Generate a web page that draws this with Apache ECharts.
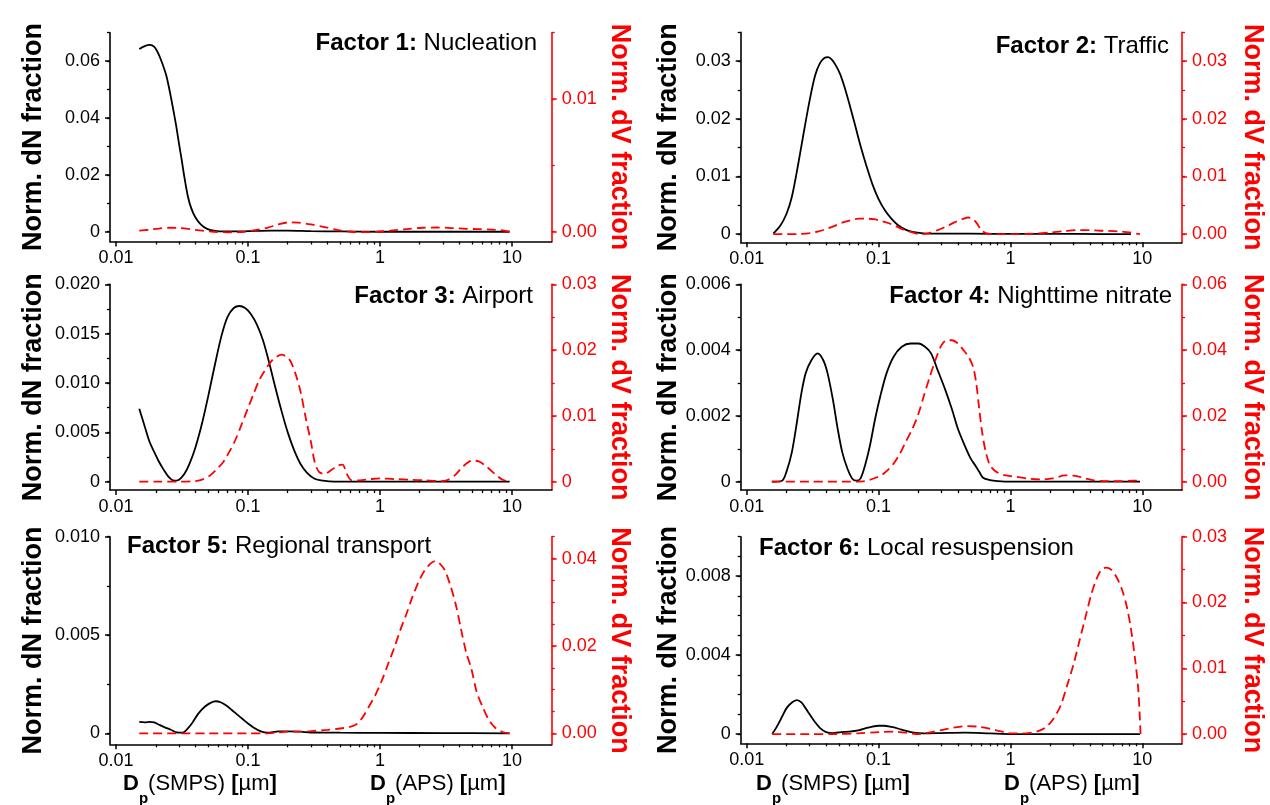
<!DOCTYPE html>
<html><head><meta charset="utf-8">
<script src="https://cdn.jsdelivr.net/npm/echarts@6/dist/echarts.min.js"></script>
<style>html,body{margin:0;padding:0;background:#fff}#c{width:1270px;height:805px}</style>
</head><body><div id="c"></div>
<script>
// ---------------- DATA ----------------
const xTickLabels = ['0.01', '0.1', '1', '10'];

// Factor 1: Nucleation
const f1Title = ['Factor 1:', ' Nucleation'];
const f1LeftTicks = ['0', '0.02', '0.04', '0.06'];
const f1RightTicks = ['0.00', '0.01'];
const f1dnX = [0.015,0.0165,0.018,0.0195,0.021,0.0225,0.024,0.0255,0.027,0.0285,0.030,0.0315,0.033,0.035,0.037,0.040,0.044,0.049,0.055,0.065,0.08,0.1,0.15,0.2,0.3,0.5,1,2,5,9.6];
const f1dnY = [0.0643,0.0653,0.0657,0.0650,0.0625,0.0590,0.0550,0.0495,0.0435,0.0375,0.031,0.025,0.019,0.0125,0.0085,0.0050,0.0025,0.0010,0.0004,0.0001,0.0001,0.0002,0.0004,0.0004,0.0002,0.0001,0,0,0,0];
const f1dvX = [0.015,0.018,0.021,0.025,0.03,0.036,0.045,0.055,0.07,0.09,0.11,0.14,0.17,0.2,0.24,0.3,0.38,0.48,0.6,0.75,0.95,1.2,1.6,2.1,2.7,3.5,4.5,5.5,7,8.5,9.6];
const f1dvY = [0.00008,0.00016,0.00024,0.0003,0.00028,0.0002,0.00008,0.0,-0.00004,-0.00002,0.0001,0.0003,0.00055,0.0007,0.00068,0.00055,0.00035,0.00012,0.0,-0.00003,0.0,0.00008,0.0002,0.0003,0.00032,0.00028,0.00022,0.0002,0.00016,0.0001,0.0];

// Factor 2: Traffic
const f2Title = ['Factor 2:', ' Traffic'];
const f2LeftTicks = ['0', '0.01', '0.02', '0.03'];
const f2RightTicks = ['0.00', '0.01', '0.02', '0.03'];
const f2dnX = [0.0159,0.018,0.020,0.022,0.0245,0.027,0.030,0.033,0.036,0.039,0.0415,0.044,0.047,0.051,0.055,0.060,0.066,0.073,0.081,0.090,0.100,0.112,0.125,0.140,0.160,0.180,0.21,0.25,0.35,0.5,1,2,5,8.2];
const f2dnY = [0.0001,0.0015,0.0035,0.0065,0.0120,0.0175,0.0232,0.0275,0.0297,0.0306,0.0307,0.0303,0.0294,0.0278,0.0256,0.0226,0.0191,0.0153,0.0118,0.0086,0.0061,0.0041,0.0027,0.0016,0.0008,0.0004,0.0002,0.0001,0.0001,0.0001,0.00005,0.00005,0.00003,0.0];
const f2dvX = [0.0159,0.020,0.025,0.030,0.035,0.040,0.046,0.053,0.061,0.070,0.080,0.092,0.105,0.12,0.135,0.155,0.18,0.21,0.24,0.28,0.33,0.38,0.43,0.48,0.52,0.56,0.6,0.65,0.75,1.0,1.5,2.0,2.5,3.2,4.0,5.0,6.5,8.0,9.6];
const f2dvY = [0.0,0.0,0.00005,0.0002,0.0005,0.0009,0.0014,0.0020,0.0024,0.0027,0.0027,0.0026,0.0023,0.0019,0.0014,0.0008,0.0003,0.0,0.0002,0.0007,0.0014,0.0021,0.0026,0.0029,0.0026,0.0018,0.0007,0.0002,0.0,0.0,0.0001,0.0003,0.0005,0.0007,0.0007,0.0006,0.0005,0.0003,0.0];

// Factor 3: Airport
const f3Title = ['Factor 3:', ' Airport'];
const f3LeftTicks = ['0', '0.005', '0.010', '0.015', '0.020'];
const f3RightTicks = ['0', '0.01', '0.02', '0.03'];
const f3dnX = [0.015,0.0165,0.018,0.0195,0.021,0.023,0.025,0.0275,0.030,0.033,0.036,0.040,0.045,0.050,0.056,0.063,0.070,0.078,0.086,0.095,0.105,0.117,0.13,0.145,0.16,0.18,0.20,0.225,0.25,0.28,0.32,0.37,0.45,1,3,9.6];
const f3dnY = [0.0074,0.0056,0.0040,0.0030,0.0021,0.0012,0.0005,0.0001,0.0002,0.0008,0.0018,0.0035,0.0060,0.0087,0.0118,0.0148,0.0167,0.0176,0.0178,0.0176,0.0170,0.0159,0.0143,0.0120,0.0097,0.0071,0.0050,0.0031,0.0018,0.0009,0.0003,0.0001,0.0,0.0,0.0,0.0];
const f3dvX = [0.015,0.02,0.03,0.04,0.046,0.052,0.058,0.065,0.072,0.080,0.089,0.1,0.11,0.122,0.135,0.15,0.165,0.18,0.195,0.21,0.23,0.25,0.275,0.30,0.32,0.345,0.38,0.43,0.48,0.52,0.56,0.61,0.7,0.85,1.0,1.3,1.7,2.2,2.8,3.2,3.7,4.3,5.0,5.6,6.5,7.5,8.5,9.6];
const f3dvY = [0.0,0.0,0.0,0.0001,0.0004,0.0010,0.0019,0.0030,0.0045,0.0063,0.0086,0.0112,0.0133,0.0155,0.0170,0.0183,0.0190,0.0193,0.0190,0.0183,0.0163,0.0137,0.0095,0.0060,0.0030,0.0015,0.0012,0.0018,0.0025,0.0026,0.0012,0.0002,0.0002,0.0004,0.0005,0.0004,0.0003,0.0002,0.0001,0.0002,0.0010,0.0024,0.0032,0.0031,0.0022,0.0011,0.0003,0.0];

// Factor 4: Nighttime nitrate
const f4Title = ['Factor 4:', ' Nighttime nitrate'];
const f4LeftTicks = ['0', '0.002', '0.004', '0.006'];
const f4RightTicks = ['0.00', '0.02', '0.04', '0.06'];
const f4dnX = [0.0155,0.0185,0.020,0.022,0.024,0.026,0.028,0.031,0.0345,0.038,0.041,0.045,0.049,0.053,0.058,0.063,0.068,0.073,0.079,0.086,0.094,0.103,0.115,0.13,0.15,0.175,0.20,0.225,0.25,0.28,0.32,0.36,0.40,0.45,0.50,0.54,0.58,0.62,0.7,0.8,1,3,9.6];
const f4dnY = [0.0,0.00003,0.0003,0.0009,0.0018,0.0027,0.0033,0.0037,0.0039,0.0037,0.0033,0.0025,0.0016,0.0009,0.0004,0.0001,0.00003,0.0001,0.0005,0.0011,0.0019,0.0026,0.0033,0.0038,0.0041,0.0042,0.0042,0.0041,0.0039,0.0034,0.0028,0.0022,0.0016,0.0011,0.0007,0.0005,0.0003,0.00012,0.00005,0.00002,0.0,0.0,0.0];
const f4dvX = [0.0155,0.03,0.06,0.075,0.085,0.095,0.105,0.115,0.13,0.145,0.16,0.18,0.20,0.22,0.245,0.27,0.30,0.33,0.36,0.40,0.44,0.48,0.52,0.55,0.58,0.61,0.65,0.70,0.78,0.9,1.1,1.4,1.7,2.1,2.6,3.1,3.7,4.3,5.5,7,8.5,9.6];
const f4dvY = [0.0,0.0,0.0,0.0001,0.0005,0.0012,0.0020,0.0032,0.0055,0.0085,0.0120,0.0160,0.0205,0.0260,0.0320,0.0370,0.0415,0.0430,0.0430,0.0420,0.0400,0.0380,0.0350,0.0300,0.0220,0.0150,0.0090,0.0050,0.0030,0.0020,0.0015,0.0009,0.0007,0.0010,0.0019,0.0018,0.0010,0.0004,0.0002,0.0002,0.0003,0.0003];

// Factor 5: Regional transport
const f5Title = ['Factor 5:', ' Regional transport'];
const f5LeftTicks = ['0', '0.005', '0.010'];
const f5RightTicks = ['0.00', '0.02', '0.04'];
const f5dnX = [0.015,0.0165,0.018,0.0195,0.021,0.023,0.026,0.029,0.032,0.035,0.038,0.042,0.047,0.052,0.057,0.062,0.068,0.075,0.083,0.092,0.10,0.11,0.125,0.14,0.17,0.2,0.25,0.3,0.5,1,3,9.6];
const f5dnY = [0.00058,0.00056,0.00058,0.00055,0.00045,0.00033,0.00018,0.00004,0.00003,0.00025,0.00055,0.0010,0.00135,0.00155,0.00163,0.00158,0.00143,0.00120,0.00095,0.00070,0.0005,0.0003,0.0001,0.00003,0.0001,0.0001,0.00008,0.00004,0.00003,0.00002,0.00001,0.0];
const f5dvX = [0.015,0.05,0.1,0.14,0.17,0.2,0.25,0.3,0.4,0.5,0.6,0.67,0.74,0.82,0.92,1.03,1.15,1.28,1.42,1.58,1.75,1.95,2.15,2.4,2.62,2.85,3.1,3.4,3.75,4.1,4.5,4.9,5.4,6.0,6.7,7.5,8.5,9.6];
const f5dvY = [0.0,0.0,0.0,0.0,0.0002,0.0004,0.0004,0.0005,0.0008,0.0011,0.0015,0.0022,0.0037,0.0060,0.0087,0.0120,0.0158,0.0195,0.0235,0.0272,0.0310,0.0345,0.0370,0.0388,0.0394,0.0388,0.0373,0.0340,0.0295,0.0240,0.0185,0.0150,0.0095,0.0060,0.0030,0.0012,0.0003,0.0];

// Factor 6: Local resuspension
const f6Title = ['Factor 6:', ' Local resuspension'];
const f6LeftTicks = ['0', '0.004', '0.008'];
const f6RightTicks = ['0.00', '0.01', '0.02', '0.03'];
const f6dnX = [0.0156,0.017,0.0186,0.020,0.022,0.024,0.026,0.028,0.030,0.033,0.036,0.040,0.045,0.052,0.06,0.07,0.08,0.09,0.10,0.11,0.125,0.14,0.16,0.185,0.22,0.3,0.45,0.7,1,3,9.6];
const f6dnY = [0.0,0.0004,0.0009,0.0013,0.0016,0.00172,0.0016,0.0013,0.0010,0.0006,0.0003,0.0001,0.00005,0.0001,0.00012,0.00018,0.0003,0.00038,0.00042,0.00042,0.00036,0.00028,0.00017,0.00007,0.00003,0.00005,0.00007,0.00003,0.0,0.0,0.0];
const f6dvX = [0.0156,0.03,0.045,0.07,0.1,0.13,0.16,0.2,0.24,0.3,0.38,0.47,0.58,0.7,0.85,1.0,1.3,1.6,1.85,2.1,2.4,2.7,3.0,3.35,3.7,4.1,4.5,4.9,5.3,5.8,6.4,7.0,7.6,8.2,8.8,9.3,9.55,9.7];
const f6dvY = [0.0,0.0,0.0,0.0001,0.0003,0.00035,0.0002,0.0,0.0002,0.0006,0.0010,0.0012,0.0011,0.0008,0.0004,0.0001,0.0001,0.0004,0.0010,0.0022,0.0043,0.0075,0.0105,0.0143,0.0177,0.0212,0.0236,0.0250,0.0253,0.0250,0.0238,0.0220,0.0195,0.0160,0.0115,0.0070,0.0030,0.0];

const leftName = 'Norm. dN fraction';
const rightName = 'Norm. dV fraction';
const xName1 = ['D', 'p', '(SMPS) ', '[', 'µm', ']'];
const xName2 = ['D', 'p', '(APS) ', '[', 'µm', ']'];

// ---------------- LAYOUT / STYLE ----------------
const FONT = '"Liberation Sans", Arial, sans-serif';
const RED = '#ff0000';
const TICK_FS = 18;
const panels = [
  {title: f1Title, tAlign: 'right', tx: 537, ty: 43, g: {left: 110, top: 32.7, width: 441.7, height: 208.8}, pad: 0.049,
   lMax: 0.07, rMax: 0.015, lStep: 0.01, rStep: 0.005, lT: f1LeftTicks, rT: f1RightTicks, gapL: 63, gapR: 54,
   dnX: f1dnX, dnY: f1dnY, dvX: f1dvX, dvY: f1dvY},
  {title: f2Title, tAlign: 'right', tx: 1169, ty: 46, g: {left: 740.7, top: 32.3, width: 441.3, height: 210}, pad: 0.040,
   lMax: 0.035, rMax: 0.035, lStep: 0.005, rStep: 0.005, lT: f2LeftTicks, rT: f2RightTicks, gapL: 59, gapR: 57,
   dnX: f2dnX, dnY: f2dnY, dvX: f2dvX, dvY: f2dvY},
  {title: f3Title, tAlign: 'right', tx: 533, ty: 296, g: {left: 110, top: 284.3, width: 441.7, height: 205.7}, pad: 0.042,
   lMax: 0.02, rMax: 0.03, lStep: 0.0025, rStep: 0.005, lT: f3LeftTicks, rT: f3RightTicks, gapL: 63, gapR: 54,
   dnX: f3dnX, dnY: f3dnY, dvX: f3dvX, dvY: f3dvY},
  {title: f4Title, tAlign: 'right', tx: 1172, ty: 296, g: {left: 740.7, top: 284.3, width: 441.3, height: 205.7}, pad: 0.042,
   lMax: 0.006, rMax: 0.06, lStep: 0.001, rStep: 0.01, lT: f4LeftTicks, rT: f4RightTicks, gapL: 59, gapR: 57,
   dnX: f4dnX, dnY: f4dnY, dvX: f4dvX, dvY: f4dvY},
  {title: f5Title, tAlign: 'left', tx: 127, ty: 546, g: {left: 110, top: 536.7, width: 441.7, height: 207.6}, pad: 0.056,
   lMax: 0.01, rMax: 0.045, lStep: 0.0025, rStep: 0.005, lT: f5LeftTicks, rT: f5RightTicks, gapL: 63, gapR: 54,
   dnX: f5dnX, dnY: f5dnY, dvX: f5dvX, dvY: f5dvY},
  {title: f6Title, tAlign: 'left', tx: 759, ty: 548, g: {left: 740.7, top: 536.7, width: 441.3, height: 206.6}, pad: 0.047,
   lMax: 0.01, rMax: 0.03, lStep: 0.001, rStep: 0.005, lT: f6LeftTicks, rT: f6RightTicks, gapL: 59, gapR: 57,
   dnX: f6dnX, dnY: f6dnY, dvX: f6dvX, dvY: f6dvY}
];
const xNamePos = [
  {name: xName1, x: 123, y: 784}, {name: xName2, x: 370, y: 784},
  {name: xName1, x: 756, y: 784}, {name: xName2, x: 1004, y: 784}
];

// ---------------- BUILD ----------------
const xMajor = xTickLabels.map(Number);
const xMinor = [];
[0.01, 0.1, 1].forEach(d => { for (let m = 2; m <= 9; m++) xMinor.push(Number((m * d).toPrecision(6))); });

function steps(max, step) {
  const a = []; const n = Math.round(max / step);
  for (let k = 0; k <= n; k++) a.push(Number((k * step).toFixed(8)));
  return a;
}
function lookup(labels) {
  return v => { for (const s of labels) if (Math.abs(Number(s) - v) < 1e-9) return s; return ''; };
}
function lookupLog(labels) {
  return v => { for (const s of labels) if (Math.abs(Math.log10(Number(s)) - Math.log10(v)) < 1e-6) return s; return ''; };
}
function zip(xs, ys) { return xs.map((x, i) => [x, ys[i]]); }

const grids = [], xAxes = [], yAxes = [], series = [], graphics = [];
panels.forEach((p, i) => {
  grids.push(Object.assign({outerBoundsMode: 'none', containLabel: false}, p.g));
  const xBase = {type: 'log', logBase: 10, gridIndex: i, min: 0.009, max: 20, position: 'bottom',
    splitLine: {show: false}, minorTick: {show: false}, minorSplitLine: {show: false}};
  xAxes.push(Object.assign({}, xBase, {
    axisLine: {show: true, onZero: false, lineStyle: {color: '#000', width: 1.6}},
    axisTick: {show: true, length: 5, customValues: xMajor, lineStyle: {color: '#000', width: 1.5}},
    axisLabel: {show: true, customValues: xMajor, formatter: lookupLog(xTickLabels), margin: 8,
      fontSize: TICK_FS, color: '#000', fontFamily: FONT}
  }));
  xAxes.push(Object.assign({}, xBase, {
    axisLine: {show: false, onZero: false},
    axisTick: {show: true, length: 3, customValues: xMinor, lineStyle: {color: '#000', width: 1.3}},
    axisLabel: {show: false}
  }));
  const lMin = -p.lMax * p.pad, rMin = -p.rMax * p.pad;
  const yBase = {type: 'value', gridIndex: i, splitLine: {show: false}, minorTick: {show: false}};
  yAxes.push(Object.assign({}, yBase, {position: 'left', min: lMin, max: p.lMax,
    axisLine: {show: true, onZero: false, lineStyle: {color: '#000', width: 1.6}},
    axisTick: {show: true, length: 5, customValues: p.lT.map(Number), lineStyle: {color: '#000', width: 1.5}},
    axisLabel: {show: true, customValues: p.lT.map(Number), formatter: lookup(p.lT), margin: 10,
      fontSize: TICK_FS, color: '#000', fontFamily: FONT},
    name: leftName, nameLocation: 'middle', nameGap: p.gapL, nameRotate: 90, nameMoveOverlap: false,
    nameTextStyle: {fontSize: 27, fontWeight: 'bold', color: '#000', fontFamily: FONT}
  }));
  yAxes.push(Object.assign({}, yBase, {position: 'left', min: lMin, max: p.lMax,
    axisLine: {show: false, onZero: false},
    axisTick: {show: true, length: 3, customValues: steps(p.lMax, p.lStep), lineStyle: {color: '#000', width: 1.3}},
    axisLabel: {show: false}
  }));
  yAxes.push(Object.assign({}, yBase, {position: 'right', min: rMin, max: p.rMax,
    axisLine: {show: true, onZero: false, lineStyle: {color: RED, width: 1.6}},
    axisTick: {show: true, length: 5, customValues: p.rT.map(Number), lineStyle: {color: RED, width: 1.5}},
    axisLabel: {show: true, customValues: p.rT.map(Number), formatter: lookup(p.rT), margin: 10,
      fontSize: TICK_FS, color: RED, fontFamily: FONT},
    name: rightName, nameLocation: 'middle', nameGap: p.gapR, nameRotate: -90, nameMoveOverlap: false,
    nameTextStyle: {fontSize: 27, fontWeight: 'bold', color: RED, fontFamily: FONT}
  }));
  yAxes.push(Object.assign({}, yBase, {position: 'right', min: rMin, max: p.rMax,
    axisLine: {show: false, onZero: false},
    axisTick: {show: true, length: 3, customValues: steps(p.rMax, p.rStep), lineStyle: {color: RED, width: 1.3}},
    axisLabel: {show: false}
  }));
  series.push({type: 'line', xAxisIndex: 2 * i, yAxisIndex: 4 * i, data: zip(p.dnX, p.dnY),
    showSymbol: false, symbol: 'none', smooth: 0.3, silent: true,
    lineStyle: {color: '#000', width: 1.8}});
  series.push({type: 'line', xAxisIndex: 2 * i, yAxisIndex: 4 * i + 2, data: zip(p.dvX, p.dvY),
    showSymbol: false, symbol: 'none', smooth: 0.3, silent: true,
    lineStyle: {color: RED, width: 1.8, type: [9, 5]}});
  graphics.push({type: 'text', x: p.tx, y: p.ty, silent: true,
    style: {text: '{b|' + p.title[0] + '}' + p.title[1], align: p.tAlign, verticalAlign: 'middle',
      fontSize: 24, fontFamily: FONT, fill: '#000',
      rich: {b: {fontWeight: 'bold', fontSize: 24, fontFamily: FONT, fill: '#000'}}}});
});
xNamePos.forEach(n => {
  const t = n.name;
  graphics.push({type: 'text', x: n.x, y: n.y, silent: true,
    style: {text: '{b|' + t[0] + '}{s|' + t[1] + '}{r|' + t[2] + '}{b|' + t[3] + '}{r|' + t[4] + '}{b|' + t[5] + '}',
      align: 'left', verticalAlign: 'middle', fontSize: 22, fontFamily: FONT, fill: '#000',
      rich: {
        b: {fontWeight: 'bold', fontSize: 22, fontFamily: FONT, fill: '#000', lineHeight: 44, verticalAlign: 'middle'},
        r: {fontSize: 22, fontFamily: FONT, fill: '#000', lineHeight: 44, verticalAlign: 'middle'},
        s: {fontWeight: 'bold', fontSize: 15, fontFamily: FONT, fill: '#000', lineHeight: 16, verticalAlign: 'bottom'}
      }}});
});

const chart = echarts.init(document.getElementById('c'), null, {renderer: 'canvas'});
chart.setOption({
  animation: false,
  backgroundColor: '#fff',
  textStyle: {fontFamily: FONT},
  grid: grids, xAxis: xAxes, yAxis: yAxes, series: series, graphic: graphics
});
</script>
</body></html>
